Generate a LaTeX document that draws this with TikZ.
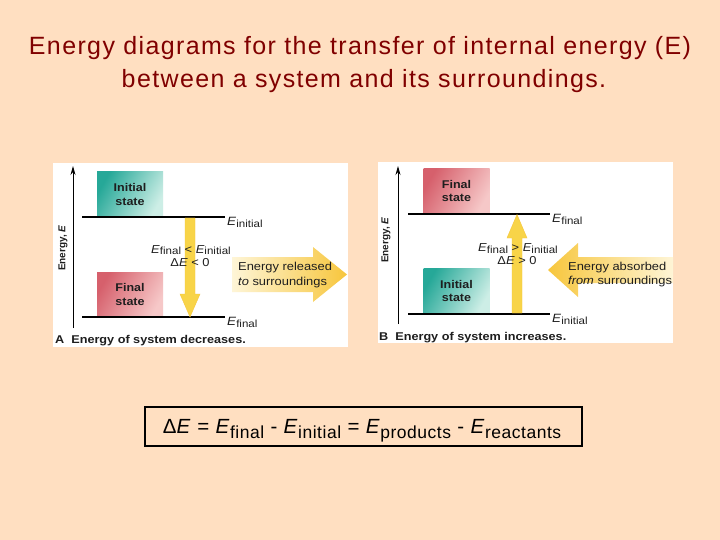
\documentclass[tikz,border=0pt]{standalone}
\usepackage{fontspec}
\setmainfont{Liberation Sans}
\newfontfamily\titlefont[LetterSpace=5.5]{Liberation Sans}
\newfontfamily\formfont[LetterSpace=3]{Liberation Sans}
\newfontfamily\widefont[FakeStretch=1.12]{Liberation Sans}
\usetikzlibrary{arrows.meta}
\definecolor{bg}{RGB}{255,223,193}
\definecolor{titlered}{RGB}{128,0,0}
\definecolor{teal1}{RGB}{38,168,152}
\definecolor{teal2}{RGB}{205,238,230}
\definecolor{pink1}{RGB}{214,96,108}
\definecolor{pink2}{RGB}{246,200,200}
\definecolor{yel}{RGB}{248,212,72}
\definecolor{yelfade}{RGB}{254,245,215}
\definecolor{yeldark}{RGB}{247,198,60}
\definecolor{txt}{RGB}{30,30,30}
\newcommand{\Es}[1]{\textit{E}\raisebox{-0.32ex}{\fontsize{10.3}{11}\selectfont #1}}
\newcommand{\Ef}[1]{\textit{E}\raisebox{-0.5ex}{\fontsize{17.5}{19}\selectfont #1}}
\tikzset{
  axisline/.style={line width=0.9pt,-{Stealth[length=9pt,width=5pt]}},
  levelline/.style={line width=1.2pt},
  statebox/.style={minimum width=66pt,minimum height=45pt,inner sep=0pt,align=center,
    font=\widefont\bfseries\fontsize{11.2}{13.5}\selectfont,text=txt},
  tealbox/.style={statebox,left color=teal1,right color=teal2,shading angle=60},
  pinkbox/.style={statebox,left color=pink1,right color=pink2,shading angle=60},
  elabel/.style={anchor=base west,inner sep=0pt,font=\widefont\fontsize{12}{14}\selectfont,text=txt},
  rellabel/.style={anchor=base,inner sep=0pt,font=\widefont\fontsize{11.5}{13}\selectfont,text=txt},
  arrowtext/.style={anchor=base west,inner sep=0pt,align=left,font=\widefont\fontsize{11.5}{15}\selectfont,text=txt},
  caption/.style={anchor=base west,inner sep=0pt,font=\widefont\bfseries\fontsize{11.3}{12}\selectfont,text=txt},
  axislabel/.style={rotate=90,inner sep=0pt,font=\bfseries\fontsize{10}{12}\selectfont,text=txt},
  yarrow/.style={fill=yel,draw=yeldark,line width=0.4pt},
  titletext/.style={anchor=base,inner sep=0pt,text=titlered,font=\titlefont\fontsize{25}{28}\selectfont},
}
\begin{document}
\begin{tikzpicture}[x=1pt,y=-1pt]
\fill[bg] (0,0) rectangle (720,540);
\useasboundingbox (0,0) rectangle (720,540);

% title
\node[titletext] (t1) at (360,54.5) {Energy diagrams for the transfer of internal energy (E)};
\node[titletext] (t2) at (364,87.5) {between a system and its surroundings.};

% panels
\fill[white] (53,163) rectangle (348,347);
\fill[white] (378,162) rectangle (673,343);

% ---------- Panel A ----------
\coordinate (aA0) at (73,328);
\coordinate (aA1) at (73,166);
\draw[axisline] (aA0) -- (aA1);
\node[axislabel] (eA) at (63,248) {Energy, \textit{E}};
\node[tealbox] (iA) at (130,194.5) {Initial\\state};
\node[pinkbox] (fA) at (130,294.5) {Final\\state};
\coordinate (liA0) at (82,217); \coordinate (liA1) at (225,217);
\coordinate (lfA0) at (82,317); \coordinate (lfA1) at (225,317);
\draw[levelline] (liA0) -- (liA1);
\draw[levelline] (lfA0) -- (lfA1);
\node[elabel] (EiA) at (227,225.5) {\Es{initial}};
\node[elabel] (EfA) at (227,325.5) {\Es{final}};
% down arrow
\draw[yarrow] (185,218) -- (195,218) -- (195,294) -- (200,294) -- (190,317) -- (180,294) -- (185,294) -- cycle;
\node[rellabel] (rA1) at (191,253) {\Es{final} < \Es{initial}};
\node[rellabel] (rA2) at (190,266.5) {Δ\textit{E} < 0};
% big arrow
\shade[left color=yelfade,right color=yeldark] (232,257) -- (313,257) -- (313,247) -- (347,274.5) -- (313,302) -- (313,292) -- (232,292) -- cycle;
\node[arrowtext] (relA) at (238,270.5) {Energy released};
\node[arrowtext] (relA2) at (238,285.5) {\textit{to} surroundings};
\node[caption] (capA) at (55,343.5) {A\ \ Energy of system decreases.};

% ---------- Panel B ----------
\coordinate (aB0) at (398,324);
\coordinate (aB1) at (398,166);
\draw[axisline] (aB0) -- (aB1);
\node[axislabel] (eB) at (386,240) {Energy, \textit{E}};
\node[pinkbox] (fB) at (456.5,191) {Final\\state};
\node[tealbox] (iB) at (456.5,291) {Initial\\state};
\coordinate (lfB0) at (408,214); \coordinate (lfB1) at (550,214);
\coordinate (liB0) at (408,314); \coordinate (liB1) at (550,314);
\draw[levelline] (lfB0) -- (lfB1);
\draw[levelline] (liB0) -- (liB1);
\node[elabel] (EfB) at (552,222.5) {\Es{final}};
\node[elabel] (EiB) at (552,322.5) {\Es{initial}};
% up arrow
\draw[yarrow] (512,313) -- (522,313) -- (522,238) -- (527,238) -- (517,214.5) -- (507,238) -- (512,238) -- cycle;
\node[rellabel] (rB1) at (518,251.5) {\Es{final} > \Es{initial}};
\node[rellabel] (rB2) at (517,264) {Δ\textit{E} > 0};
% big arrow
\shade[left color=yeldark,right color=yelfade] (548,270) -- (578,243) -- (578,257) -- (673,257) -- (673,283) -- (578,283) -- (578,297) -- cycle;
\node[arrowtext] (absB) at (568,270) {Energy absorbed};
\node[arrowtext] (absB2) at (568,284) {\textit{from} surroundings};
\node[caption] (capB) at (379,340) {B\ \ Energy of system increases.};

% ---------- formula ----------
\node[draw=black,line width=2pt,minimum width=437pt,minimum height=39pt,inner sep=0pt] (box) at (363.5,426.5) {};
\node[anchor=base,inner sep=0pt,font=\formfont\fontsize{20.5}{22}\selectfont] (form) at (362,433)
  {Δ\textit{E} = \Ef{final} - \Ef{initial} = \Ef{products} - \Ef{reactants}};
\end{tikzpicture}
\end{document}
